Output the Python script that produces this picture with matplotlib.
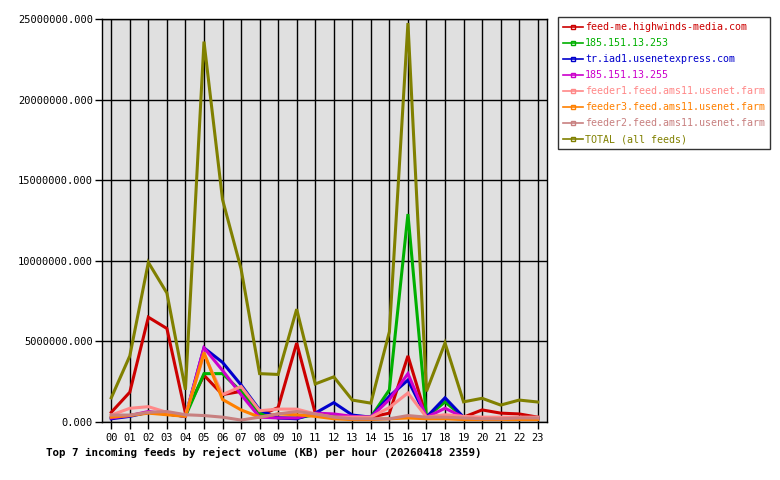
import matplotlib
matplotlib.use('Agg')
import matplotlib.pyplot as plt
from matplotlib.lines import Line2D

# hours of the day
hours = ['%02d' % h for h in range(24)]

# reject volume (KB) per hour
feed_me = [600000, 1850000, 6500000, 5800000, 550000, 2900000, 1700000, 1900000,
           400000, 900000, 4900000, 550000, 400000, 300000, 300000, 550000,
           4100000, 300000, 400000, 300000, 750000, 550000, 500000, 300000]
ip_253 = [250000, 400000, 600000, 500000, 350000, 3000000, 3000000, 1900000,
          550000, 250000, 250000, 450000, 350000, 300000, 300000, 2000000,
          12900000, 300000, 1250000, 300000, 250000, 250000, 250000, 200000]
tr_iad1 = [200000, 350000, 600000, 500000, 350000, 4600000, 3700000, 2300000,
           750000, 250000, 200000, 550000, 1200000, 430000, 300000, 1600000,
           2600000, 300000, 1500000, 300000, 250000, 250000, 250000, 200000]
ip_255 = [250000, 400000, 650000, 500000, 350000, 4600000, 3200000, 1700000,
          300000, 250000, 250000, 550000, 500000, 350000, 300000, 1400000,
          3000000, 300000, 850000, 300000, 250000, 250000, 250000, 200000]
feeder1 = [430000, 850000, 950000, 600000, 430000, 4200000, 1700000, 2200000,
           700000, 800000, 800000, 500000, 300000, 300000, 300000, 900000,
           1800000, 300000, 450000, 350000, 300000, 300000, 300000, 300000]
feeder3 = [300000, 400000, 550000, 450000, 350000, 4300000, 1400000, 750000,
           300000, 500000, 450000, 350000, 200000, 150000, 150000, 200000,
           250000, 200000, 200000, 150000, 150000, 150000, 150000, 150000]
feeder2 = [430000, 430000, 600000, 650000, 450000, 400000, 300000, 120000,
           300000, 500000, 650000, 500000, 300000, 200000, 200000, 200000,
           400000, 300000, 300000, 250000, 200000, 200000, 250000, 250000]
total = [1500000, 4100000, 9900000, 8000000, 2000000, 23600000, 13800000, 9500000,
         3000000, 2950000, 7000000, 2360000, 2800000, 1360000, 1170000, 5600000,
         24750000, 1900000, 4900000, 1250000, 1470000, 1050000, 1360000, 1240000]

names = ['feed-me.highwinds-media.com', '185.151.13.253', 'tr.iad1.usenetexpress.com',
         '185.151.13.255', 'feeder1.feed.ams11.usenet.farm', 'feeder3.feed.ams11.usenet.farm',
         'feeder2.feed.ams11.usenet.farm', 'TOTAL (all feeds)']
series = [feed_me, ip_253, tr_iad1, ip_255, feeder1, feeder3, feeder2, total]
colors = ['#cc0000', '#00b000', '#0000cc', '#cc00cc', '#ff8888', '#ff8000', '#c88080', '#808000']

plt.rcParams['font.family'] = ['DejaVu Sans Mono']

fig = plt.figure(figsize=(7.8, 4.8), dpi=100)
ax = fig.add_axes([102 / 780, 58 / 480, 445 / 780, 403 / 480])
ax.set_facecolor('#e0e0e0')

x = list(range(len(hours)))
for vals, col in zip(series, colors):
    ax.plot(x, vals, color=col, lw=2.2, solid_joinstyle='miter')

ax.set_xlim(-0.5, 23.5)
ax.set_ylim(0, 25000000)
ax.set_xticks(x)
ax.set_xticklabels(hours)
ax.set_yticks(range(0, 25000001, 5000000))
ax.set_yticklabels(['%.3f' % v for v in range(0, 25000001, 5000000)])
ax.grid(True, color='black', lw=1)
ax.set_axisbelow(True)
ax.tick_params(direction='out', length=5, width=1, labelsize=7.5)
ax.tick_params(axis='y', pad=1.5)
ax.tick_params(axis='x', pad=3)
for s in ax.spines.values():
    s.set_linewidth(1)

handles = [Line2D([0], [0], color=c, lw=1.2, marker='s', ms=3, mfc='none', mew=1)
           for c in colors]
leg = fig.legend(handles, names, loc='upper left', bbox_to_anchor=(558 / 780, 1 - 17 / 480),
                 fontsize=7.2, frameon=True, fancybox=False, handlelength=2.0,
                 handletextpad=0.2, labelspacing=0.6, borderpad=0.5, borderaxespad=0)
leg.get_frame().set_edgecolor('black')
leg.get_frame().set_linewidth(1)
for t, c in zip(leg.get_texts(), colors):
    t.set_color(c)

fig.text(264 / 780, 1 - 452 / 480, 'Top 7 incoming feeds by reject volume (KB) per hour (20260418 2359)',
         ha='center', va='center', fontsize=7.8, fontweight='bold')

fig.savefig('out.png', dpi=100)
